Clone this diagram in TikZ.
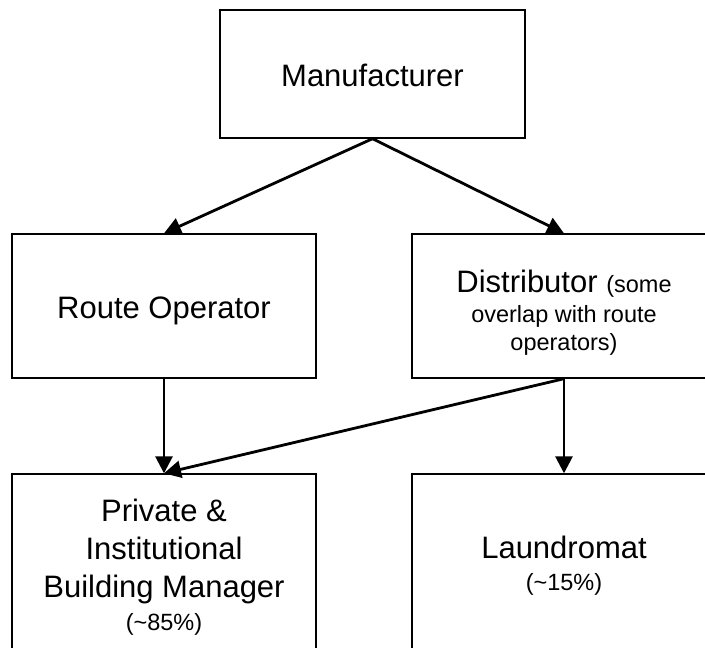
\documentclass[tikz,border=0pt]{standalone}
\usepackage{fontspec}
\setmainfont{Liberation Sans}
\usetikzlibrary{arrows.meta}
\newcommand\bigf{\fontsize{31}{38}\selectfont}
\newcommand\smallf{\fontsize{23.5}{30}\selectfont}
\begin{document}
\begin{tikzpicture}[x=1pt,y=-1pt,
  boxnode/.style={draw=black,line width=1.4pt,inner sep=0pt,minimum width=304pt},
  txt/.style={align=center,font=\bigf,inner sep=0pt},
  conn/.style={line width=2.8pt,-{Triangle[length=17pt,width=17pt]}}]
\useasboundingbox (0,0) rectangle (705,648);
\clip (0,0) rectangle (705,648);
\node[boxnode,minimum width=305pt,minimum height=128pt] (man) at (372.5,74) {};
\node[boxnode,minimum height=144pt] (route) at (164,306) {};
\node[boxnode,minimum height=144pt] (dist) at (564,306) {};
\node[boxnode,minimum height=200pt] (priv) at (164,574) {};
\node[boxnode,minimum height=200pt] (laund) at (564,574) {};
\node[txt] (mant) at (372.5,75) {Manufacturer};
\node[txt] (routet) at (164,311) {Route Operator};
\node[txt] (distt) at (564,313) {Distributor {\smallf (some}\\[-8pt]{\smallf overlap with route}\\[-10pt]{\smallf operators)}};
\node[txt] (privt) at (164,567.5) {Private \&\\Institutional\\Building Manager\\[-5pt]{\smallf (\textasciitilde 85\%)}};
\node[txt] (laundt) at (564,566) {Laundromat\\[-6pt]{\smallf (\textasciitilde 15\%)}};
\draw[conn] (man.south) -- (route.north);
\draw[conn] (man.south) -- (dist.north);
\draw[conn] (route.south) -- (priv.north);
\draw[conn] (dist.south) -- (laund.north);
\draw[conn] (dist.south) -- (priv.north);
\end{tikzpicture}
\end{document}
